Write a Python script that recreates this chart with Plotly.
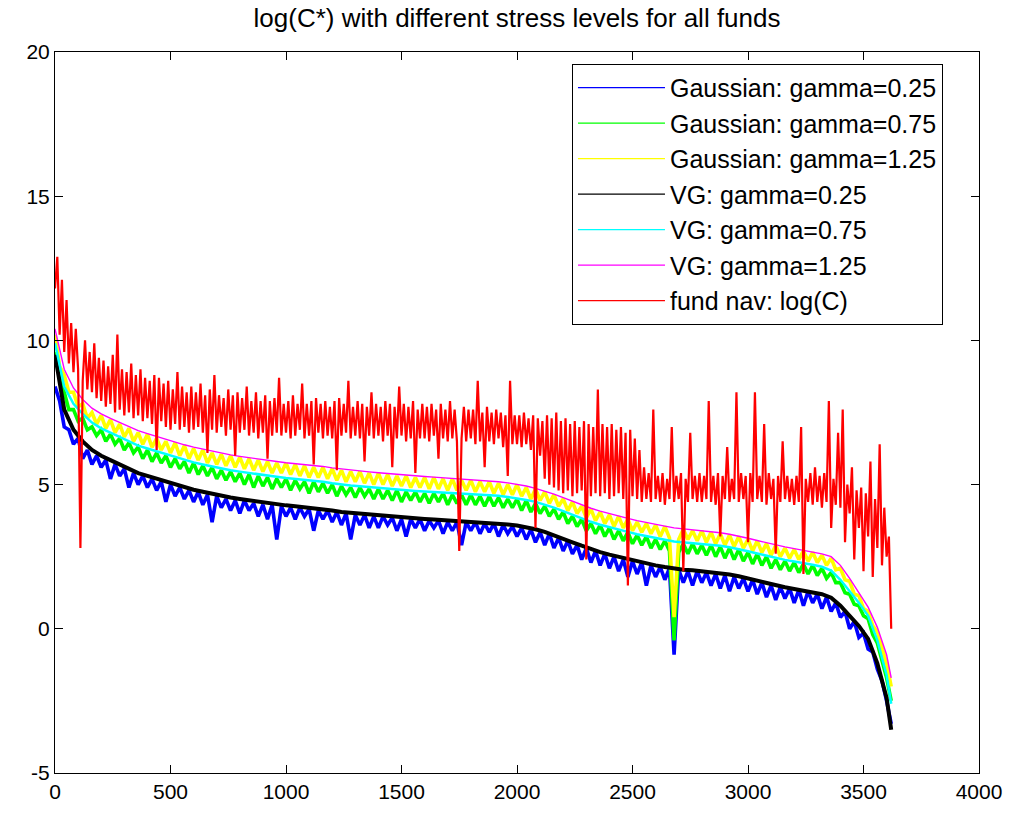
import plotly.graph_objects as go

# fund index grids (x values)
fund_idx_red = list(range(0, 3621, 10))           # 363 funds sampled
fund_idx_fine = list(range(0, 3621, 20))          # 182 funds sampled
fund_idx = list(range(0, 3601, 40)) + [3620]       # 92 funds sampled

x_tick_vals = [0, 500, 1000, 1500, 2000, 2500, 3000, 3500, 4000]
x_tick_text = ["0", "500", "1000", "1500", "2000", "2500", "3000", "3500", "4000"]
y_tick_vals = [-5, 0, 5, 10, 15, 20]
y_tick_text = ["-5", "0", "5", "10", "15", "20"]

# Gaussian model, sampled on fund_idx_fine
gauss_025 = [
    8.4, 7.9, 7.0, 6.9, 6.4, 6.6, 5.9, 6.2, 5.7, 6.0,
    5.6, 5.85, 5.2, 5.7, 5.3, 5.55, 4.9, 5.4, 5.0, 5.3,
    4.9, 5.2, 4.8, 5.1, 4.4, 5.0, 4.6, 4.9, 4.5, 4.8,
    4.4, 4.75, 4.3, 4.65, 3.7, 4.6, 4.2, 4.5, 4.1, 4.45,
    4.0, 4.45, 4.1, 4.35, 3.9, 4.3, 3.8, 4.3, 3.1, 4.25,
    3.9, 4.2, 3.8, 4.2, 3.9, 4.15, 3.4, 4.1, 3.8, 4.1,
    3.7, 4.05, 3.6, 4.0, 3.1, 3.95, 3.6, 3.95, 3.5, 3.9,
    3.5, 3.9, 3.6, 3.85, 3.4, 3.8, 3.2, 3.8, 3.5, 3.8,
    3.4, 3.75, 3.5, 3.75, 3.3, 3.7, 3.4, 3.7, 2.9, 3.7,
    3.4, 3.7, 3.3, 3.65, 3.35, 3.65, 3.2, 3.6, 3.3, 3.55,
    3.2, 3.5, 3.1, 3.45, 3.0, 3.35, 2.9, 3.3, 2.8, 3.15,
    2.7, 3.05, 2.6, 2.9, 2.4, 2.8, 2.3, 2.7, 2.2, 2.6,
    2.1, 2.5, 2.0, 2.4, 1.8, 2.35, 1.9, 2.3, 1.5, 2.2,
    1.8, 2.15, 1.7, 2.1, -0.9, 2.05, 1.6, 2.0, 1.5, 2.0,
    1.6, 1.95, 1.5, 1.9, 1.4, 1.85, 1.3, 1.8, 1.4, 1.75,
    1.3, 1.7, 1.2, 1.6, 1.1, 1.5, 1.0, 1.45, 1.05, 1.4,
    0.9, 1.35, 0.8, 1.3, 0.9, 1.2, 0.7, 1.1, 0.6, 0.9,
    0.4, 0.6, 0.0, 0.25, -0.3, -0.15, -0.7, -0.8, -1.4, -1.8,
    -2.5, -3.3,
]
gauss_075 = [
    9.6, 8.7, 8.2, 7.6, 7.6, 7.2, 7.3, 6.9, 7.0, 6.7,
    6.9, 6.5, 6.75, 6.4, 6.6, 6.2, 6.45, 6.1, 6.3, 5.9,
    6.2, 5.8, 6.1, 5.75, 6.0, 5.6, 5.9, 5.55, 5.8, 5.4,
    5.75, 5.35, 5.65, 5.3, 5.6, 5.2, 5.5, 5.15, 5.45, 5.1,
    5.4, 5.0, 5.35, 4.9, 5.3, 4.95, 5.25, 4.85, 5.2, 4.9,
    5.2, 4.8, 5.15, 4.85, 5.1, 4.7, 5.1, 4.75, 5.05, 4.7,
    5.0, 4.6, 4.95, 4.65, 4.9, 4.55, 4.9, 4.6, 4.85, 4.5,
    4.85, 4.5, 4.8, 4.45, 4.8, 4.4, 4.75, 4.45, 4.75, 4.4,
    4.7, 4.35, 4.7, 4.4, 4.7, 4.3, 4.65, 4.35, 4.65, 4.3,
    4.65, 4.3, 4.6, 4.25, 4.6, 4.25, 4.55, 4.2, 4.5, 4.2,
    4.5, 4.1, 4.45, 4.05, 4.35, 4.0, 4.25, 3.9, 4.15, 3.8,
    4.05, 3.65, 3.9, 3.55, 3.8, 3.4, 3.65, 3.3, 3.6, 3.2,
    3.5, 3.1, 3.4, 3.05, 3.35, 2.95, 3.25, 2.9, 3.2, 2.8,
    3.1, 2.75, 3.05, 2.7, -0.4, 2.65, 2.95, 2.6, 2.95, 2.6,
    2.9, 2.55, 2.9, 2.5, 2.85, 2.45, 2.8, 2.4, 2.75, 2.35,
    2.65, 2.25, 2.6, 2.2, 2.5, 2.1, 2.4, 2.05, 2.35, 2.0,
    2.3, 1.95, 2.25, 1.9, 2.2, 1.85, 2.1, 1.75, 1.95, 1.6,
    1.6, 1.25, 1.2, 0.85, 0.8, 0.45, 0.35, -0.2, -0.5, -1.1,
    -1.7, -2.5,
]
gauss_125 = [
    10.2, 9.1, 8.8, 8.2, 8.2, 7.7, 7.8, 7.3, 7.5, 7.1,
    7.4, 6.95, 7.25, 6.8, 7.1, 6.65, 6.95, 6.5, 6.8, 6.4,
    6.75, 6.3, 6.6, 6.2, 6.5, 6.1, 6.45, 6.0, 6.35, 5.9,
    6.25, 5.85, 6.2, 5.75, 6.1, 5.7, 6.05, 5.65, 6.0, 5.6,
    5.95, 5.55, 5.9, 5.5, 5.85, 5.45, 5.8, 5.4, 5.75, 5.4,
    5.75, 5.35, 5.7, 5.3, 5.65, 5.25, 5.6, 5.25, 5.6, 5.2,
    5.55, 5.15, 5.5, 5.1, 5.45, 5.1, 5.45, 5.05, 5.4, 5.0,
    5.4, 5.0, 5.35, 4.95, 5.3, 4.95, 5.3, 4.9, 5.25, 4.9,
    5.25, 4.85, 5.25, 4.85, 5.2, 4.8, 5.2, 4.8, 5.15, 4.8,
    5.15, 4.75, 5.1, 4.75, 5.1, 4.7, 5.05, 4.65, 5.0, 4.65,
    5.0, 4.6, 4.9, 4.5, 4.85, 4.45, 4.75, 4.35, 4.65, 4.25,
    4.5, 4.1, 4.4, 4.0, 4.25, 3.85, 4.15, 3.75, 4.05, 3.65,
    3.95, 3.55, 3.9, 3.5, 3.8, 3.4, 3.7, 3.35, 3.65, 3.3,
    3.6, 3.2, 3.55, 3.15, 0.4, 3.1, 3.45, 3.1, 3.4, 3.05,
    3.4, 3.0, 3.35, 2.95, 3.3, 2.9, 3.25, 2.85, 3.2, 2.8,
    3.1, 2.7, 3.05, 2.65, 2.95, 2.55, 2.9, 2.5, 2.8, 2.45,
    2.75, 2.4, 2.7, 2.35, 2.65, 2.3, 2.55, 2.2, 2.45, 2.05,
    2.1, 1.7, 1.65, 1.2, 1.15, 0.7, 0.6, 0.1, -0.1, -0.6,
    -1.2, -2.0,
]
# Variance-Gamma model, sampled on fund_idx
vg_025 = [
    9.5, 7.6, 6.9, 6.5, 6.2, 6.0, 5.85, 5.7, 5.55, 5.4,
    5.3, 5.2, 5.1, 5.0, 4.9, 4.82, 4.75, 4.68, 4.6, 4.55,
    4.5, 4.45, 4.4, 4.36, 4.32, 4.28, 4.25, 4.22, 4.18, 4.15,
    4.1, 4.05, 4.02, 3.99, 3.96, 3.93, 3.9, 3.87, 3.85, 3.83,
    3.81, 3.79, 3.77, 3.76, 3.75, 3.73, 3.71, 3.69, 3.66, 3.62,
    3.58, 3.52, 3.45, 3.36, 3.25, 3.13, 3.0, 2.88, 2.76, 2.66,
    2.57, 2.49, 2.41, 2.33, 2.26, 2.2, 2.14, 2.08, 2.05, 2.03,
    2.0, 1.97, 1.93, 1.88, 1.82, 1.74, 1.66, 1.58, 1.5, 1.44,
    1.38, 1.33, 1.27, 1.2, 1.08, 0.8, 0.45, 0.1, -0.35, -1.2,
    -2.4, -3.5,
]
vg_075 = [
    9.9, 8.4, 7.8, 7.45, 7.15, 6.95, 6.8, 6.65, 6.5, 6.35,
    6.25, 6.15, 6.05, 5.95, 5.85, 5.77, 5.7, 5.63, 5.55, 5.5,
    5.45, 5.4, 5.35, 5.31, 5.27, 5.23, 5.2, 5.17, 5.13, 5.1,
    5.05, 5.0, 4.97, 4.94, 4.91, 4.88, 4.85, 4.82, 4.8, 4.78,
    4.76, 4.74, 4.72, 4.71, 4.7, 4.68, 4.66, 4.64, 4.61, 4.57,
    4.53, 4.47, 4.4, 4.31, 4.2, 4.08, 3.95, 3.83, 3.71, 3.61,
    3.52, 3.44, 3.36, 3.28, 3.21, 3.15, 3.09, 3.03, 3.0, 2.98,
    2.95, 2.92, 2.88, 2.83, 2.77, 2.69, 2.61, 2.53, 2.45, 2.39,
    2.33, 2.28, 2.22, 2.15, 2.02, 1.7, 1.3, 0.9, 0.45, -0.4,
    -1.6, -2.6,
]
vg_125 = [
    10.4, 9.0, 8.35, 7.95, 7.65, 7.45, 7.3, 7.15, 7.0, 6.87,
    6.77, 6.67, 6.57, 6.47, 6.38, 6.3, 6.23, 6.16, 6.08, 6.03,
    5.98, 5.93, 5.88, 5.84, 5.8, 5.76, 5.73, 5.7, 5.66, 5.63,
    5.58, 5.54, 5.5, 5.47, 5.44, 5.41, 5.38, 5.35, 5.32, 5.3,
    5.28, 5.26, 5.24, 5.22, 5.2, 5.18, 5.16, 5.13, 5.1, 5.06,
    5.01, 4.95, 4.87, 4.78, 4.67, 4.55, 4.42, 4.3, 4.18, 4.08,
    3.99, 3.91, 3.83, 3.75, 3.68, 3.62, 3.56, 3.5, 3.47, 3.44,
    3.41, 3.37, 3.33, 3.28, 3.22, 3.14, 3.06, 2.98, 2.9, 2.84,
    2.78, 2.72, 2.66, 2.6, 2.5, 2.2, 1.75, 1.25, 0.75, 0.05,
    -0.9, -1.7,
]
# observed fund NAV, sampled on fund_idx_red
fund_nav_logc = [
    11.8, 12.9, 10.2, 12.1, 9.6, 11.4, 9.2, 10.6, 8.9, 10.4, 9.0, 2.8, 8.6, 10.0, 8.3, 9.6, 8.2, 9.9, 8.0, 9.4,
    7.9, 9.3, 7.7, 9.1, 7.8, 9.5, 7.5, 10.2, 7.6, 9.0, 7.4, 8.9, 7.5, 9.2, 7.3, 8.8, 7.4, 9.0, 7.2, 8.7,
    7.3, 8.6, 7.1, 8.8, 6.2, 8.7, 7.2, 8.5, 7.0, 8.6, 6.9, 8.3, 7.1, 8.9, 6.9, 8.4, 7.0, 8.2, 6.8, 8.4,
    6.9, 8.2, 7.0, 8.5, 6.8, 8.1, 6.1, 8.3, 6.9, 8.8, 6.8, 8.1, 7.0, 8.0, 6.7, 8.3, 6.9, 8.1, 6.0, 8.2,
    6.8, 8.0, 6.9, 8.4, 6.7, 7.9, 6.8, 8.2, 6.6, 7.9, 6.8, 8.1, 5.9, 7.9, 6.7, 8.0, 6.8, 8.7, 6.7, 7.8,
    6.8, 7.9, 6.6, 8.1, 6.7, 7.8, 6.9, 8.5, 6.6, 7.8, 6.7, 7.9, 5.7, 8.0, 6.8, 7.8, 6.6, 7.9, 6.7, 7.7,
    6.6, 7.9, 5.5, 8.0, 6.7, 7.8, 6.8, 8.6, 6.6, 7.7, 6.7, 7.9, 6.6, 7.8, 5.8, 7.7, 6.7, 8.2, 6.6, 7.8,
    6.7, 7.7, 6.5, 7.9, 6.7, 7.8, 5.6, 7.7, 6.6, 8.4, 6.7, 7.8, 6.5, 7.7, 6.6, 7.9, 5.4, 7.6, 6.6, 7.8,
    6.6, 7.7, 6.5, 7.8, 6.7, 7.6, 5.9, 7.8, 6.6, 7.6, 6.5, 7.9, 6.6, 7.6, 6.5, 2.7, 6.6, 7.7, 6.5, 7.6,
    6.6, 7.6, 6.4, 8.6, 6.5, 7.5, 5.6, 7.7, 6.5, 7.5, 6.4, 7.6, 6.6, 7.5, 6.3, 7.4, 5.3, 8.6, 6.4, 7.4,
    6.4, 7.4, 6.3, 7.5, 6.4, 7.3, 6.2, 7.4, 3.5, 7.3, 6.0, 7.2, 5.2, 7.4, 5.0, 7.3, 4.9, 7.5, 4.8, 7.2,
    4.7, 7.3, 4.8, 7.1, 4.6, 7.2, 4.7, 7.0, 4.8, 7.2, 2.4, 7.1, 4.6, 7.0, 4.7, 8.3, 4.6, 7.1, 4.7, 7.0,
    4.5, 7.1, 4.6, 6.9, 4.7, 7.0, 4.5, 6.8, 1.5, 6.9, 4.6, 6.6, 4.5, 6.2, 4.4, 5.6, 4.5, 5.4, 4.4, 7.6,
    4.5, 5.3, 4.4, 5.4, 4.3, 5.2, 4.5, 7.0, 4.4, 5.3, 4.5, 5.4, 2.0, 5.2, 4.4, 6.8, 4.5, 5.3, 4.4, 5.4,
    4.4, 5.3, 4.5, 7.9, 4.4, 5.3, 4.3, 5.4, 3.2, 5.3, 4.5, 6.3, 4.4, 5.2, 4.5, 8.2, 4.4, 5.4, 4.5, 5.3,
    3.0, 5.4, 4.4, 8.2, 4.5, 5.3, 4.4, 7.1, 4.3, 5.4, 4.5, 5.2, 2.6, 5.3, 4.4, 6.5, 4.5, 5.3, 4.4, 5.2,
    4.3, 5.3, 4.4, 7.0, 1.9, 5.2, 4.4, 5.4, 4.3, 5.6, 4.4, 5.3, 4.2, 5.4, 4.4, 7.9, 3.5, 5.2, 4.3, 6.8,
    4.2, 7.6, 3.0, 5.0, 4.0, 5.6, 2.4, 4.8, 3.5, 4.9, 2.0, 4.7, 3.2, 5.8, 1.8, 4.5, 2.8, 6.4, 2.2, 4.2,
    2.5, 3.2, 0.0,
]

series = [
    ("Gaussian: gamma=0.25", fund_idx_fine, gauss_025, "#0000ff", 3.6),
    ("Gaussian: gamma=0.75", fund_idx_fine, gauss_075, "#00ff00", 3.6),
    ("Gaussian: gamma=1.25", fund_idx_fine, gauss_125, "#ffff00", 3.6),
    ("VG: gamma=0.25", fund_idx, vg_025, "#000000", 4.0),
    ("VG: gamma=0.75", fund_idx, vg_075, "#00ffff", 2.5),
    ("VG: gamma=1.25", fund_idx, vg_125, "#ff00ff", 1.4),
    ("fund nav: log(C)", fund_idx_red, fund_nav_logc, "#ff0000", 2.2),
]

fig = go.Figure()
for i, (name, xs, ys, color, width) in enumerate(series):
    assert len(xs) == len(ys), (name, len(xs), len(ys))
    fig.add_trace(go.Scatter(
        x=xs, y=ys, mode="lines", name=name,
        line=dict(color=color, width=width),
        showlegend=False, hoverinfo="skip",
    ))
# thin-line legend entries (no data drawn)
for i, (name, xs, ys, color, width) in enumerate(series):
    fig.add_trace(go.Scatter(
        x=[None], y=[None], mode="lines", name=name,
        line=dict(color=color, width=1.2),
        legendgroup="g%d" % i, showlegend=True,
    ))

font_fam = "Liberation Sans, Arial, sans-serif"
fig.update_layout(
    width=1017, height=815, autosize=False,
    margin=dict(l=55, r=38, t=52, b=35, pad=0),
    paper_bgcolor="white", plot_bgcolor="white",
    title=dict(text="log(C*) with different stress levels for all funds",
               x=0.5084, xanchor="center", y=1 - 18 / 815, yanchor="middle",
               font=dict(family=font_fam, size=26, color="black")),
    legend=dict(x=0.5595, y=0.9835, xanchor="left", yanchor="top",
                bgcolor="white", bordercolor="black", borderwidth=1,
                font=dict(family=font_fam, size=25, color="black"),
                tracegroupgap=0, itemwidth=87),
    showlegend=True,
)
axis_common = dict(
    ticks="inside", ticklen=8, tickwidth=1, tickcolor="black",
    showline=True, linecolor="black", linewidth=1, mirror="ticks",
    showgrid=False, zeroline=False,
    tickfont=dict(family=font_fam, size=21, color="black"),
)
fig.update_xaxes(range=[0, 4000], tickmode="array", tickvals=x_tick_vals,
                 ticktext=x_tick_text, **axis_common)
fig.update_yaxes(range=[-5, 20], tickmode="array", tickvals=y_tick_vals,
                 ticktext=y_tick_text, **axis_common)

fig.write_html("out.html")
